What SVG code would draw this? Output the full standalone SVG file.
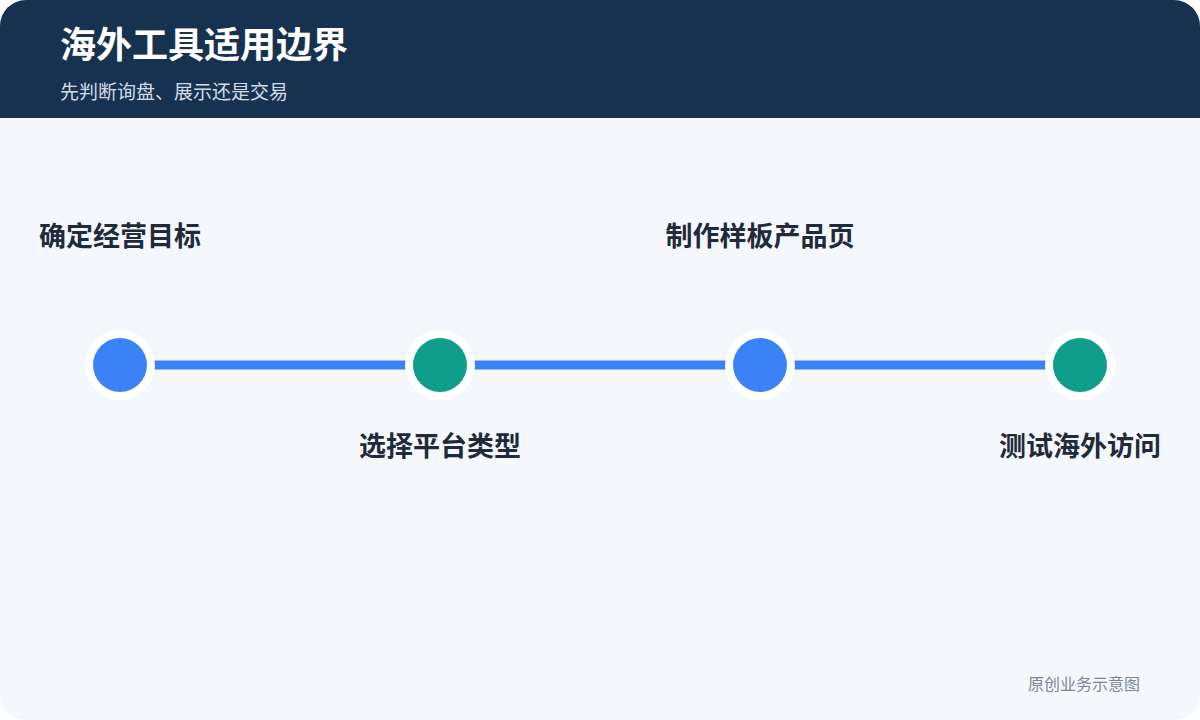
<svg xmlns="http://www.w3.org/2000/svg" width="1200" height="720" viewBox="0 0 1200 720">
  <defs>
    <clipPath id="card">
      <rect x="0" y="0" width="1200" height="720" rx="26" ry="26"/>
    </clipPath>
    <style>
      .title { font-family: "Noto Sans CJK SC", "Liberation Sans", sans-serif; font-size: 36px; font-weight: 700; fill: #ffffff; }
      .sub { font-family: "Noto Sans CJK SC", "Liberation Sans", sans-serif; font-size: 19px; fill: #d3dde9; }
      .label { font-family: "Noto Sans CJK SC", "Liberation Sans", sans-serif; font-size: 27px; font-weight: 700; fill: #1f2a3a; text-anchor: middle; }
      .foot { font-family: "Noto Sans CJK SC", "Liberation Sans", sans-serif; font-size: 16px; fill: #7a8698; text-anchor: end; }
      .ring { fill: #ffffff; }
      .blue { fill: #3b82f6; }
      .green { fill: #0f9e8a; }
      .conn { stroke: #3b82f6; stroke-width: 9; fill: none; }
    </style>
  </defs>
  <rect x="0" y="0" width="1200" height="720" fill="#ffffff"/>
  <g clip-path="url(#card)">
    <rect x="0" y="0" width="1200" height="720" fill="#f4f8fd"/>
    <rect x="0" y="0" width="1200" height="118" fill="#173250"/>
  </g>
  <text class="title" x="60" y="58">海外工具适用边界</text>
  <text class="sub" x="60" y="99">先判断询盘、展示还是交易</text>

  <g id="connectors">
    <line class="conn" x1="120" y1="365" x2="440" y2="365"/>
    <line class="conn" x1="440" y1="365" x2="760" y2="365"/>
    <line class="conn" x1="760" y1="365" x2="1080" y2="365"/>
  </g>

  <g id="node1">
    <circle class="ring" cx="120" cy="365" r="35"/>
    <circle class="blue" cx="120" cy="365" r="27"/>
    <text class="label" x="120" y="246">确定经营目标</text>
  </g>
  <g id="node2">
    <circle class="ring" cx="440" cy="365" r="35"/>
    <circle class="green" cx="440" cy="365" r="27"/>
    <text class="label" x="440" y="456">选择平台类型</text>
  </g>
  <g id="node3">
    <circle class="ring" cx="760" cy="365" r="35"/>
    <circle class="blue" cx="760" cy="365" r="27"/>
    <text class="label" x="760" y="246">制作样板产品页</text>
  </g>
  <g id="node4">
    <circle class="ring" cx="1080" cy="365" r="35"/>
    <circle class="green" cx="1080" cy="365" r="27"/>
    <text class="label" x="1080" y="456">测试海外访问</text>
  </g>

  <text class="foot" x="1140" y="690">原创业务示意图</text>
</svg>
